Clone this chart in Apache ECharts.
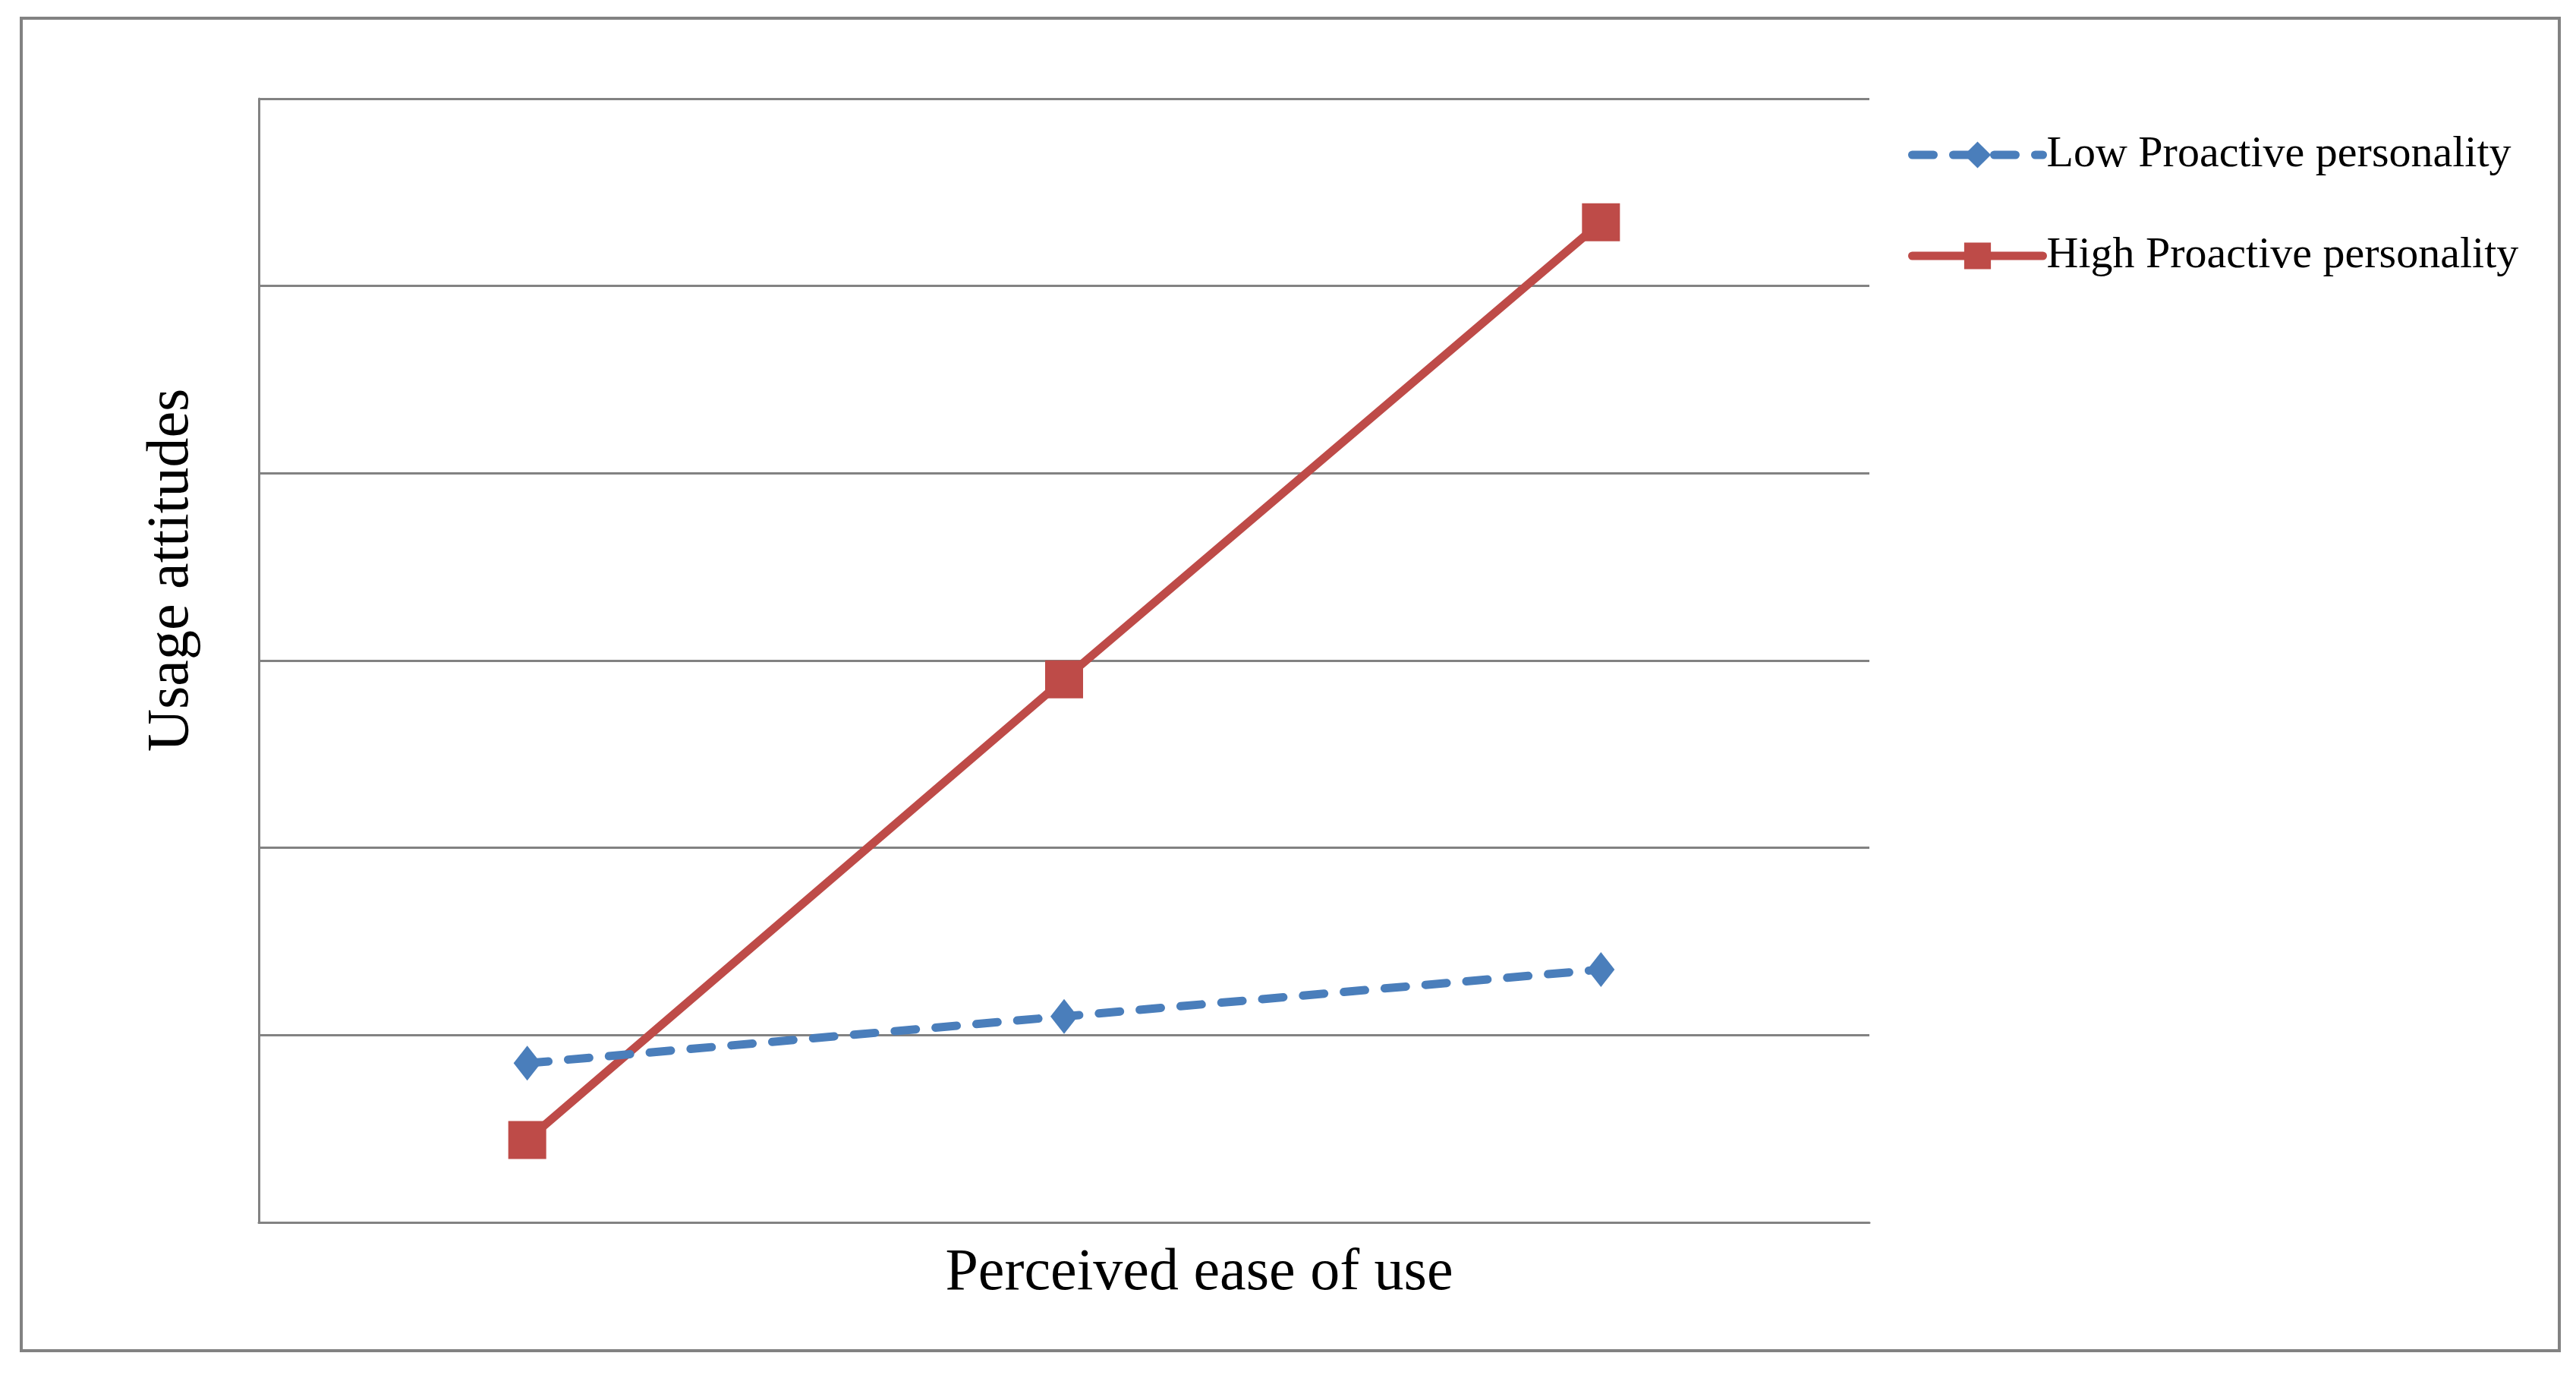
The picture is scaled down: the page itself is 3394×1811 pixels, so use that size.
<!DOCTYPE html>
<html>
<head>
<meta charset="utf-8">
<script src="https://cdn.jsdelivr.net/npm/echarts@6/dist/echarts.min.js"></script>
<style>
html,body{margin:0;padding:0;background:#fff;}
#chart{width:3394px;height:1811px;}
</style>
</head>
<body>
<div id="chart"></div>
<script>
// Data
var categories = ['Low', 'Medium', 'High'];
var lowProactive = [0.85, 1.10, 1.35];
var highProactive = [0.44, 2.90, 5.34];
var seriesNames = ['Low Proactive personality', 'High Proactive personality'];
var xTitle = 'Perceived ease of use';
var yTitle = 'Usage attitudes';

var chart = echarts.init(document.getElementById('chart'), null, {renderer: 'canvas'});
var serif = '"Liberation Serif", "Times New Roman", serif';
var gridColor = '#828282';

chart.setOption({
  backgroundColor: '#ffffff',
  animation: false,
  grid: {left: 341, top: 130, right: 931, bottom: 201, containLabel: false},
  legend: {
    orient: 'vertical',
    left: 2509,
    top: 170,
    itemWidth: 172,
    itemHeight: 44,
    itemGap: 75,
    lineStyle: {width: 11, cap: 'round'},
    textStyle: {fontFamily: serif, fontSize: 58, color: '#000'},
    data: seriesNames
  },
  xAxis: {
    type: 'category',
    data: categories,
    boundaryGap: true,
    axisLine: {show: true, lineStyle: {color: gridColor, width: 3}},
    axisTick: {show: false},
    axisLabel: {show: false},
    splitLine: {show: false}
  },
  yAxis: {
    type: 'value',
    min: 0, max: 6, interval: 1,
    axisLine: {show: true, lineStyle: {color: gridColor, width: 3}},
    axisTick: {show: false},
    axisLabel: {show: false},
    splitLine: {show: true, lineStyle: {color: gridColor, width: 3}}
  },
  series: [
    {
      name: seriesNames[0],
      type: 'line',
      data: lowProactive,
      symbol: 'diamond',
      symbolSize: [36, 46],
      itemStyle: {color: '#4a7ebb'},
      lineStyle: {color: '#4a7ebb', width: 11, type: [28, 26], cap: 'round'},
      z: 3
    },
    {
      name: seriesNames[1],
      type: 'line',
      data: highProactive,
      symbol: 'rect',
      symbolSize: 50,
      itemStyle: {color: '#be4b48'},
      lineStyle: {color: '#be4b48', width: 11},
      z: 2
    }
  ],
  graphic: [
    {
      type: 'rect',
      shape: {x: 28, y: 24, width: 3344, height: 1755},
      style: {fill: 'none', stroke: gridColor, lineWidth: 4},
      silent: true
    },
    {
      type: 'text',
      x: 1580, y: 1678,
      style: {text: xTitle, font: '78px ' + serif, fill: '#000', textAlign: 'center', textVerticalAlign: 'middle'}
    },
    {
      type: 'text',
      x: 227, y: 751,
      rotation: Math.PI / 2,
      style: {text: yTitle, font: '78px ' + serif, fill: '#000', textAlign: 'center', textVerticalAlign: 'middle'}
    }
  ]
});
</script>
</body>
</html>
